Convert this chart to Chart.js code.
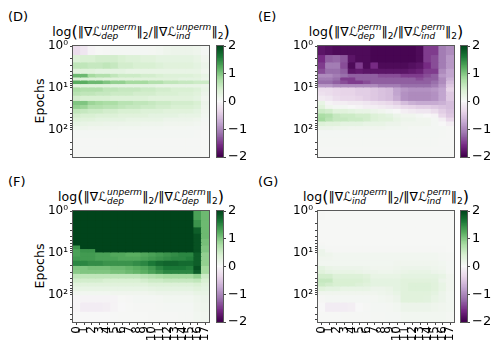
<!DOCTYPE html>
<html lang="en">
<head>
<meta charset="UTF-8">
<title>Gradient norm ratios per layer</title>
<script src="https://cdn.jsdelivr.net/npm/chart.js"></script>
<style>
  body { margin: 0; background: #fff; font-family: 'DejaVu Sans', sans-serif; color: #000; }
  #fig { position: relative; width: 498px; height: 349px; overflow: hidden; }
  canvas { position: absolute; }
  .tag { position: absolute; font-size: 13px; line-height: 15px; }
  .ttl { position: absolute; width: 260px; text-align: center; font-size: 12.5px; white-space: nowrap; line-height: 20px; }
  .ylab { position: absolute; font-size: 12.5px; white-space: nowrap; transform: translate(-50%, -50%) rotate(-90deg); }
  .ss { display: inline-block; vertical-align: -0.32em; font-size: 9px; line-height: 9px; font-style: italic; text-align: left; }
  .ss span { display: block; }
  .two { font-size: 9px; vertical-align: -0.3em; }
  .big { font-size: 16px; vertical-align: -1px; }
</style>
</head>
<body>
<div id="fig">
  <div class="tag" style="left:8px;top:9px">(D)</div>
  <div class="tag" style="left:258px;top:9px">(E)</div>
  <div class="tag" style="left:8px;top:174px">(F)</div>
  <div class="tag" style="left:258px;top:174px">(G)</div>

  <div class="ttl" style="left:11px;top:22px">log<span class="big">(</span>‖∇<i>ℒ</i><span class="ss"><span>unperm</span><span>dep</span></span>‖<span class="two">2</span>/‖∇<i>ℒ</i><span class="ss"><span>unperm</span><span>ind</span></span>‖<span class="two">2</span><span class="big">)</span></div>
  <div class="ttl" style="left:256px;top:22px">log<span class="big">(</span>‖∇<i>ℒ</i><span class="ss"><span>perm</span><span>dep</span></span>‖<span class="two">2</span>/‖∇<i>ℒ</i><span class="ss"><span>perm</span><span>ind</span></span>‖<span class="two">2</span><span class="big">)</span></div>
  <div class="ttl" style="left:11px;top:187px">log<span class="big">(</span>‖∇<i>ℒ</i><span class="ss"><span>unperm</span><span>dep</span></span>‖<span class="two">2</span>/‖∇<i>ℒ</i><span class="ss"><span>perm</span><span>dep</span></span>‖<span class="two">2</span><span class="big">)</span></div>
  <div class="ttl" style="left:256px;top:187px">log<span class="big">(</span>‖∇<i>ℒ</i><span class="ss"><span>unperm</span><span>ind</span></span>‖<span class="two">2</span>/‖∇<i>ℒ</i><span class="ss"><span>perm</span><span>ind</span></span>‖<span class="two">2</span><span class="big">)</span></div>

  <div class="ylab" style="left:39px;top:101px">Epochs</div>
  <div class="ylab" style="left:39px;top:266px">Epochs</div>

  <canvas id="hmD" width="190" height="133" style="left:33px;top:35px"></canvas>
  <canvas id="hmE" width="190" height="133" style="left:278px;top:35px"></canvas>
  <canvas id="hmF" width="190" height="148" style="left:33px;top:200px"></canvas>
  <canvas id="hmG" width="190" height="148" style="left:278px;top:200px"></canvas>
  <canvas id="cbD" width="39" height="133" style="left:212px;top:35px"></canvas>
  <canvas id="cbE" width="39" height="133" style="left:456px;top:35px"></canvas>
  <canvas id="cbF" width="39" height="133" style="left:212px;top:200px"></canvas>
  <canvas id="cbG" width="39" height="133" style="left:456px;top:200px"></canvas>
</div>

<script>
// layer index on x, epoch bins on y (log)
const layers = ['0','1','2','3','4','5','6','7','8','9','10','11','12','13','14','15','16','17'];
const epochEdges = [1, 1.6, 2.4, 3.4, 4.5, 5.5, 6.5, 7.9, 9.5, 12, 15, 20, 25, 31, 40, 50, 62, 80, 100, 150, 250, 450];
const epochTicks = [1, 2, 3, 4, 5, 6, 7, 8, 9, 10, 20, 30, 40, 50, 60, 70, 80, 90, 100, 200, 300, 400];
const cbarTicks = [-2, -1, 0, 1, 2];

// (D) dep vs ind, unpermuted
const ratioD = [
  [-0.3,-0.2,-0.05,0.02,0.03,0.05,0.05,0.05,0.05,0.05,0.06,0.08,0.12,0.15,0.15,0.15,0.12,0.05],
  [0.35,0.4,0.4,0.45,0.45,0.45,0.4,0.35,0.35,0.3,0.3,0.25,0.25,0.25,0.25,0.25,0.2,0.1],
  [0.6,0.6,0.55,0.55,0.6,0.55,0.45,0.45,0.4,0.4,0.4,0.35,0.3,0.3,0.3,0.3,0.25,0.15],
  [0.3,0.3,0.3,0.25,0.25,0.25,0.25,0.2,0.2,0.2,0.2,0.2,0.2,0.2,0.2,0.2,0.2,0.1],
  [1.1,1.1,0.8,0.7,0.7,0.6,0.5,0.5,0.5,0.45,0.45,0.4,0.35,0.35,0.35,0.35,0.3,0.2],
  [0.4,0.35,0.35,0.35,0.3,0.3,0.3,0.3,0.3,0.3,0.3,0.3,0.3,0.3,0.25,0.25,0.25,0.15],
  [1.2,1.2,1.1,1.1,1.0,0.9,0.9,0.8,0.8,0.8,0.7,0.7,0.6,0.6,0.55,0.55,0.5,0.5],
  [0.3,0.3,0.3,0.3,0.3,0.25,0.25,0.25,0.25,0.25,0.25,0.2,0.2,0.2,0.2,0.2,0.2,0.15],
  [0.75,0.7,0.7,0.7,0.6,0.6,0.55,0.55,0.55,0.5,0.5,0.45,0.45,0.4,0.4,0.4,0.35,0.2],
  [0.65,0.6,0.6,0.55,0.55,0.5,0.5,0.5,0.45,0.45,0.45,0.4,0.4,0.4,0.35,0.35,0.3,0.15],
  [0.45,0.4,0.4,0.4,0.4,0.35,0.35,0.35,0.35,0.35,0.3,0.3,0.3,0.3,0.3,0.3,0.25,0.1],
  [1.0,1.0,0.85,0.8,0.75,0.75,0.65,0.65,0.6,0.6,0.55,0.5,0.5,0.45,0.45,0.45,0.4,0.15],
  [0.9,0.85,0.7,0.7,0.65,0.65,0.6,0.55,0.55,0.5,0.5,0.45,0.45,0.4,0.4,0.4,0.35,0.12],
  [0.6,0.55,0.5,0.5,0.45,0.45,0.4,0.4,0.4,0.35,0.35,0.35,0.3,0.3,0.3,0.3,0.25,0.1],
  [0.45,0.4,0.4,0.35,0.35,0.35,0.3,0.3,0.3,0.3,0.25,0.25,0.25,0.25,0.2,0.2,0.2,0.08],
  [0.35,0.3,0.3,0.25,0.25,0.25,0.25,0.2,0.2,0.2,0.2,0.2,0.15,0.15,0.15,0.15,0.12,0.05],
  [0.22,0.2,0.18,0.18,0.16,0.15,0.15,0.14,0.14,0.12,0.12,0.12,0.1,0.1,0.1,0.1,0.08,0.04],
  [0.12,0.12,0.1,0.1,0.1,0.09,0.08,0.08,0.08,0.07,0.07,0.07,0.06,0.06,0.06,0.05,0.05,0.03],
  [0.05,0.05,0.05,0.05,0.05,0.05,0.05,0.05,0.05,0.05,0.05,0.05,0.05,0.05,0.05,0.05,0.04,0.02],
  [0.03,0.03,0.03,0.03,0.03,0.03,0.03,0.03,0.03,0.03,0.03,0.03,0.03,0.03,0.03,0.03,0.03,0.02],
  [0.03,0.03,0.03,0.03,0.03,0.03,0.03,0.03,0.03,0.03,0.03,0.03,0.03,0.03,0.03,0.03,0.03,0.02]
];

// (E) dep vs ind, permuted
const ratioE = [
  [-1.8,-1.85,-1.9,-1.9,-1.9,-1.9,-1.9,-1.95,-1.95,-1.95,-1.95,-1.95,-1.95,-1.9,-1.5,-1.5,-1.1,-1.0],
  [-1.6,-1.3,-1.25,-1.35,-1.8,-1.9,-1.9,-1.95,-1.95,-1.95,-1.95,-1.95,-1.95,-1.9,-1.5,-1.4,-1.1,-0.9],
  [-1.5,-1.1,-1.1,-1.4,-1.9,-1.5,-1.9,-1.6,-1.9,-1.9,-1.9,-1.9,-1.85,-1.8,-1.6,-1.4,-1.1,-0.9],
  [-1.4,-1.2,-1.2,-1.3,-1.8,-1.75,-1.8,-1.8,-1.8,-1.8,-1.8,-1.8,-1.75,-1.7,-1.5,-1.5,-1.0,-0.8],
  [-1.0,-1.0,-1.1,-1.2,-1.3,-1.3,-1.3,-1.3,-1.4,-1.4,-1.4,-1.5,-1.5,-1.5,-1.4,-1.3,-0.9,-0.8],
  [-1.1,-1.1,-1.2,-1.5,-1.5,-1.3,-1.3,-1.3,-1.3,-1.3,-1.3,-1.3,-1.3,-1.4,-1.3,-1.3,-1.0,-0.7],
  [-1.2,-1.2,-1.3,-1.4,-1.5,-1.5,-1.4,-1.3,-1.3,-1.3,-1.3,-1.3,-1.3,-1.3,-1.3,-1.2,-1.0,-0.6],
  [-0.9,-0.9,-1.0,-1.0,-1.0,-1.0,-1.0,-1.0,-1.1,-1.1,-1.1,-1.2,-1.2,-1.2,-1.2,-1.1,-0.9,-0.5],
  [-0.3,-0.3,-0.35,-0.4,-0.4,-0.45,-0.45,-0.5,-0.55,-0.6,-0.8,-0.9,-0.95,-0.95,-0.95,-0.9,-0.8,-0.4],
  [-0.25,-0.3,-0.35,-0.4,-0.4,-0.45,-0.45,-0.5,-0.55,-0.6,-0.8,-0.95,-1.0,-1.0,-1.0,-0.95,-0.8,-0.5],
  [-0.15,-0.2,-0.3,-0.35,-0.35,-0.4,-0.45,-0.5,-0.55,-0.6,-0.75,-0.95,-1.0,-1.0,-1.0,-0.95,-0.8,-0.5],
  [0.2,-0.05,-0.1,-0.1,-0.15,-0.15,-0.2,-0.25,-0.3,-0.35,-0.45,-0.6,-0.7,-0.75,-0.75,-0.75,-0.7,-0.6],
  [0.3,0.1,0.05,0.05,0.0,-0.05,-0.1,-0.1,-0.15,-0.2,-0.25,-0.35,-0.4,-0.45,-0.45,-0.5,-0.55,-0.6],
  [0.5,0.45,0.3,0.3,0.25,0.2,0.2,0.15,0.1,0.05,0.0,-0.1,-0.15,-0.2,-0.2,-0.3,-0.45,-0.55],
  [0.75,0.7,0.55,0.5,0.5,0.45,0.45,0.35,0.3,0.25,0.15,0.1,0.1,0.05,0.0,-0.05,-0.35,-0.5],
  [0.8,0.65,0.55,0.55,0.5,0.5,0.45,0.35,0.3,0.3,0.2,0.15,0.15,0.1,0.1,0.05,-0.1,-0.35],
  [0.35,0.3,0.3,0.25,0.25,0.25,0.2,0.2,0.2,0.15,0.15,0.1,0.1,0.1,0.1,0.05,0.0,-0.1],
  [0.15,0.15,0.12,0.12,0.1,0.1,0.1,0.1,0.1,0.08,0.08,0.08,0.06,0.06,0.05,0.05,0.05,0.03],
  [0.05,0.05,0.05,0.05,0.05,0.05,0.05,0.05,0.05,0.05,0.05,0.05,0.05,0.05,0.05,0.05,0.04,0.03],
  [0.04,0.04,0.04,0.04,0.04,0.04,0.04,0.04,0.04,0.04,0.04,0.04,0.04,0.04,0.04,0.04,0.03,0.03],
  [0.03,0.03,0.03,0.03,0.03,0.03,0.03,0.03,0.03,0.03,0.03,0.03,0.03,0.03,0.03,0.03,0.03,0.03]
];

// (F) unpermuted vs permuted, dep
const ratioF = [
  [2,2,2,2,2,2,2,2,2,2,2,2,2,2,2,2,1.3,1.1],
  [2,2,2,2,2,2,2,2,2,2,2,2,2,2,2,2,1.4,1.1],
  [2,2,2,2,2,2,2,2,2,2,2,2,2,2,2,2,1.8,1.1],
  [2,2,2,2,2,2,2,2,2,2,2,2,2,2,2,2,1.9,1.1],
  [2,2,2,2,2,2,2,2,2,2,2,2,2,2,2,2,1.9,1.05],
  [2,2,2,2,2,2,2,2,2,2,2,2,2,2,2,2,1.9,1.05],
  [1.4,2,2,2,2,2,2,2,2,2,2,2,2,2,2,2,1.9,1.0],
  [1.3,1.4,1.4,2,2,2,2,2,2,2,2,2,2,2,2,2,1.9,1.0],
  [1.3,1.35,1.35,1.3,1.3,1.25,1.25,1.2,1.2,1.25,1.3,1.35,1.4,1.45,1.5,1.5,1.8,0.9],
  [1.35,1.35,1.35,1.3,1.3,1.3,1.25,1.25,1.25,1.3,1.35,1.4,1.45,1.5,1.5,1.55,1.8,0.9],
  [1.5,1.5,1.45,1.45,1.4,1.4,1.4,1.4,1.45,1.5,1.6,1.7,1.75,1.75,1.7,1.7,1.8,0.9],
  [1.0,1.0,1.05,1.05,1.05,1.1,1.1,1.15,1.2,1.25,1.35,1.5,1.6,1.6,1.6,1.55,1.9,0.8],
  [0.95,1.0,1.0,1.0,1.0,1.05,1.05,1.1,1.15,1.2,1.3,1.4,1.5,1.5,1.5,1.5,1.8,0.8],
  [0.6,0.6,0.6,0.6,0.6,0.6,0.6,0.6,0.6,0.65,0.7,0.75,0.8,0.8,0.8,0.8,0.9,0.5],
  [0.45,0.45,0.45,0.45,0.4,0.4,0.4,0.4,0.4,0.45,0.5,0.5,0.55,0.55,0.55,0.55,0.6,0.4],
  [0.3,0.3,0.3,0.3,0.3,0.3,0.3,0.3,0.3,0.3,0.35,0.35,0.35,0.35,0.35,0.35,0.4,0.3],
  [0.2,0.2,0.2,0.2,0.2,0.2,0.2,0.2,0.2,0.2,0.22,0.25,0.25,0.25,0.25,0.25,0.3,0.25],
  [0.08,0.08,0.08,0.08,0.08,0.1,0.1,0.1,0.1,0.1,0.12,0.15,0.15,0.15,0.15,0.15,0.2,0.2],
  [-0.02,-0.05,-0.05,-0.05,-0.05,-0.05,0.02,0.03,0.05,0.05,0.05,0.06,0.08,0.08,0.08,0.08,0.12,0.15],
  [-0.03,-0.12,-0.12,-0.12,-0.1,-0.05,0.0,0.02,0.03,0.03,0.03,0.04,0.05,0.05,0.05,0.05,0.1,0.12],
  [0.0,0.0,0.0,0.0,0.0,0.01,0.02,0.02,0.02,0.02,0.03,0.03,0.03,0.03,0.04,0.04,0.08,0.1]
];

// (G) unpermuted vs permuted, ind
const ratioG = [
  [0.03,0.02,0.02,0.02,0.02,0.02,0.02,0.02,0.02,0.02,0.02,0.02,0.02,0.02,0.02,0.02,0.02,0.02],
  [0.02,0.02,0.02,0.02,0.02,0.02,0.02,0.02,0.02,0.02,0.02,0.02,0.02,0.02,0.02,0.02,0.02,0.02],
  [0.02,0.02,0.02,0.02,0.02,0.02,0.02,0.02,0.02,0.02,0.02,0.02,0.02,0.02,0.02,0.02,0.02,0.02],
  [0.02,0.02,0.02,0.02,0.02,0.02,0.02,0.02,0.02,0.02,0.02,0.02,0.02,0.02,0.02,0.02,0.02,0.02],
  [0.02,0.02,0.02,0.02,0.02,0.02,0.02,0.02,0.02,0.02,0.02,0.02,0.02,0.02,0.02,0.02,0.02,0.02],
  [0.03,0.02,0.02,0.02,0.02,0.02,0.02,0.02,0.02,0.02,0.02,0.02,0.02,0.02,0.02,0.02,0.02,0.02],
  [0.05,0.03,0.03,0.03,0.03,0.03,0.03,0.03,0.03,0.03,0.03,0.03,0.03,0.03,0.03,0.03,0.03,0.02],
  [0.15,0.04,0.03,0.03,0.03,0.03,0.03,0.03,0.03,0.03,0.03,0.03,0.03,0.03,0.03,0.03,0.03,0.02],
  [0.15,0.12,0.08,0.08,0.08,0.08,0.08,0.08,0.08,0.08,0.08,0.08,0.08,0.08,0.08,0.08,0.06,0.04],
  [0.1,0.1,0.08,0.08,0.08,0.08,0.08,0.08,0.08,0.08,0.08,0.08,0.08,0.08,0.08,0.08,0.06,0.04],
  [0.08,0.08,0.08,0.08,0.08,0.08,0.08,0.08,0.08,0.08,0.1,0.1,0.1,0.1,0.1,0.1,0.08,0.05],
  [0.25,0.18,0.15,0.15,0.15,0.15,0.12,0.1,0.1,0.1,0.12,0.15,0.15,0.15,0.15,0.12,0.1,0.05],
  [0.3,0.22,0.2,0.2,0.2,0.18,0.15,0.15,0.12,0.12,0.15,0.18,0.2,0.2,0.2,0.15,0.12,0.06],
  [0.45,0.45,0.35,0.35,0.35,0.35,0.3,0.2,0.2,0.2,0.2,0.25,0.25,0.25,0.25,0.25,0.2,0.1],
  [0.55,0.55,0.4,0.4,0.4,0.4,0.35,0.25,0.25,0.25,0.25,0.3,0.3,0.3,0.3,0.28,0.15,0.1],
  [0.5,0.45,0.4,0.4,0.4,0.35,0.3,0.25,0.25,0.25,0.25,0.3,0.35,0.35,0.35,0.3,0.2,0.1],
  [0.3,0.25,0.25,0.2,0.2,0.2,0.2,0.15,0.15,0.18,0.25,0.3,0.35,0.35,0.35,0.3,0.2,0.1],
  [0.1,0.1,0.1,0.1,0.1,0.1,0.1,0.1,0.12,0.15,0.2,0.3,0.3,0.3,0.3,0.25,0.15,0.08],
  [0.03,0.05,0.05,0.05,0.05,0.05,0.05,0.06,0.08,0.1,0.15,0.3,0.3,0.3,0.28,0.2,0.15,0.08],
  [0.0,-0.12,-0.12,-0.12,-0.1,0.0,0.03,0.05,0.05,0.06,0.08,0.15,0.15,0.15,0.15,0.12,0.1,0.08],
  [0.02,0.02,0.02,0.03,0.03,0.03,0.03,0.04,0.04,0.05,0.05,0.08,0.08,0.08,0.08,0.08,0.08,0.06]
];

// matplotlib PRGn stops
const PRGN = [[64,0,75],[118,42,131],[153,112,171],[194,165,207],[231,212,232],[247,247,247],[217,240,211],[166,219,160],[90,174,97],[27,120,55],[0,68,27]];
function prgn(v) {
  const t = Math.min(Math.max((v + 2) / 4, 0), 1) * 10;
  const i = Math.min(Math.floor(t), 9), f = t - i;
  const c = PRGN[i].map((a, k) => Math.round(a + (PRGN[i + 1][k] - a) * f));
  return 'rgb(' + c.join(',') + ')';
}

const frame = {
  id: 'frame',
  afterDatasetsDraw(chart) {
    const { ctx, chartArea: a } = chart;
    ctx.save();
    ctx.strokeStyle = '#5a5a5a';
    ctx.lineWidth = 1;
    ctx.strokeRect(Math.round(a.left) - 0.5, Math.round(a.top) - 0.5, Math.round(a.width) + 1, Math.round(a.height) + 1);
    ctx.restore();
  }
};

const sup = { 1: '10⁰', 10: '10¹', 100: '10²' };

function heatmap(id, values, showX) {
  const datasets = values.map((row, r) => ({
    data: row.map(() => [epochEdges[r], epochEdges[r + 1]]),
    backgroundColor: row.map(prgn),
    grouped: false,
    barPercentage: 1,
    categoryPercentage: 1,
    borderWidth: 0,
    inflateAmount: 0.5
  }));
  new Chart(document.getElementById(id), {
    type: 'bar',
    data: { labels: layers, datasets },
    options: {
      responsive: false,
      animation: false,
      events: [],
      layout: { padding: { top: 11, right: 14, bottom: showX ? 0 : 11, left: 0 } },
      plugins: { legend: { display: false }, tooltip: { enabled: false } },
      scales: {
        x: {
          display: showX,
          grid: { drawOnChartArea: false, offset: false, tickLength: 3, color: '#444' },
          border: { display: false },
          ticks: { font: { family: 'DejaVu Sans', size: 12 }, color: '#000', minRotation: 90, maxRotation: 90, autoSkip: false, padding: 1 },
          afterFit: s => { if (showX) s.height = 26; }
        },
        y: {
          type: 'logarithmic',
          reverse: true,
          min: 1,
          max: 450,
          afterBuildTicks: s => { s.ticks = epochTicks.map(v => ({ value: v, major: !!sup[v] })); },
          grid: { drawOnChartArea: false, tickLength: 3, color: '#444' },
          border: { display: false },
          ticks: {
            autoSkip: false,
            font: { family: 'DejaVu Sans', size: 12 },
            color: '#000',
            padding: 2,
            callback: v => sup[v] || ''
          },
          afterFit: s => { s.width = 40; }
        }
      }
    },
    plugins: [frame]
  });
}

function colorbar(id) {
  const n = 80;
  const datasets = [];
  for (let i = 0; i < n; i++) {
    const lo = -2 + 4 * i / n, hi = -2 + 4 * (i + 1) / n;
    datasets.push({
      data: [[lo, hi]],
      backgroundColor: prgn((lo + hi) / 2),
      grouped: false, barPercentage: 1, categoryPercentage: 1, borderWidth: 0, inflateAmount: 0.5
    });
  }
  new Chart(document.getElementById(id), {
    type: 'bar',
    data: { labels: [''], datasets },
    options: {
      responsive: false,
      animation: false,
      events: [],
      layout: { padding: { top: 11, right: 0, bottom: 11, left: 5 } },
      plugins: { legend: { display: false }, tooltip: { enabled: false } },
      scales: {
        x: { display: false },
        y: {
          position: 'right',
          min: -2,
          max: 2,
          afterBuildTicks: s => { s.ticks = cbarTicks.map(v => ({ value: v })); },
          grid: { drawOnChartArea: false, tickLength: 3, color: '#444' },
          border: { display: false },
          ticks: {
            font: { family: 'DejaVu Sans', size: 13 },
            color: '#000',
            padding: 2,
            callback: v => v < 0 ? '−' + Math.abs(v) : String(v)
          },
          afterFit: s => { s.width = 28; }
        }
      }
    },
    plugins: [frame]
  });
}

heatmap('hmD', ratioD, false);
heatmap('hmE', ratioE, false);
heatmap('hmF', ratioF, true);
heatmap('hmG', ratioG, true);
colorbar('cbD');
colorbar('cbE');
colorbar('cbF');
colorbar('cbG');
</script>
</body>
</html>
